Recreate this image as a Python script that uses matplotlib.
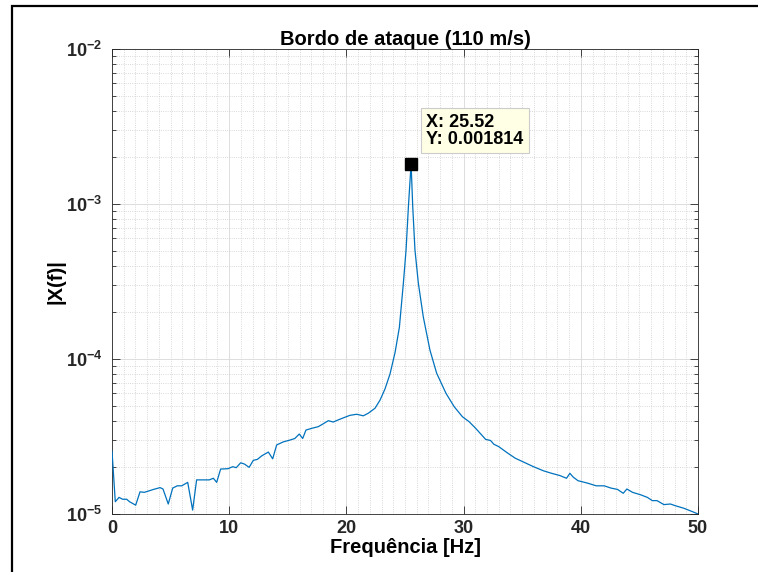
import numpy as np
import matplotlib
matplotlib.use("Agg")
import matplotlib.pyplot as plt
from matplotlib import rcParams
from matplotlib.ticker import FixedLocator, FuncFormatter, LogLocator, NullFormatter
import matplotlib.patches as mpatches

# -------------------------------------------------------
# 数据（从图中读取的频谱幅值）
# -------------------------------------------------------
freq = [0.0, 0.28, 0.6, 0.91, 1.25, 1.5, 2.02, 2.39, 2.76, 3.16, 3.53, 4.1, 4.35,
        4.8, 5.18, 5.57, 5.95, 6.46, 6.88, 7.22, 7.6, 8.3, 8.65, 8.93, 9.27, 9.9,
        10.3, 10.6, 10.98, 11.3, 11.7, 12.06, 12.4, 12.77, 13.34, 13.71, 14.05,
        14.62, 15.19, 15.6, 15.98, 16.27, 16.55, 17.04, 17.6, 18.0, 18.46, 18.88,
        19.31, 19.88, 20.3, 20.88, 21.44, 21.87, 22.44, 22.87, 23.29, 23.72, 24.15,
        24.52, 24.86, 25.09, 25.29, 25.52, 25.66, 25.85, 26.14, 26.56, 27.13, 27.7,
        28.5, 29.2, 29.9, 30.47, 31.03, 31.88, 32.3, 32.58, 33.0, 33.7, 34.41,
        35.25, 35.96, 36.81, 37.51, 38.22, 38.78, 39.07, 39.35, 39.76, 40.6, 41.31,
        42.0, 42.57, 43.14, 43.62, 43.93, 44.41, 45.11, 45.68, 46.1, 46.5, 47.09,
        47.65, 48.08, 48.78, 49.6, 50.0]
amp = [2.55e-5, 1.2e-5, 1.28e-5, 1.245e-5, 1.245e-5, 1.2e-5, 1.14e-5, 1.39e-5,
       1.38e-5, 1.41e-5, 1.44e-5, 1.48e-5, 1.45e-5, 1.16e-5, 1.47e-5, 1.52e-5,
       1.52e-5, 1.6e-5, 1.06e-5, 1.66e-5, 1.66e-5, 1.66e-5, 1.7e-5, 1.6e-5,
       1.95e-5, 1.96e-5, 2.02e-5, 1.99e-5, 2.14e-5, 2.1e-5, 2.0e-5, 2.22e-5,
       2.25e-5, 2.37e-5, 2.51e-5, 2.27e-5, 2.79e-5, 2.92e-5, 3.0e-5, 3.07e-5,
       3.28e-5, 3.07e-5, 3.48e-5, 3.57e-5, 3.66e-5, 3.81e-5, 4.0e-5, 3.92e-5,
       4.05e-5, 4.21e-5, 4.33e-5, 4.4e-5, 4.3e-5, 4.47e-5, 4.81e-5, 5.43e-5,
       6.4e-5, 8.0e-5, 1.1e-4, 1.6e-4, 3.08e-4, 5.05e-4, 9.6e-4, 1.814e-3,
       9.6e-4, 5.05e-4, 3.08e-4, 1.87e-4, 1.14e-4, 8.1e-5, 6.0e-5, 4.92e-5,
       4.24e-5, 3.94e-5, 3.57e-5, 3.03e-5, 2.98e-5, 2.82e-5, 2.72e-5, 2.49e-5,
       2.29e-5, 2.14e-5, 2.02e-5, 1.9e-5, 1.83e-5, 1.77e-5, 1.7e-5, 1.83e-5,
       1.73e-5, 1.64e-5, 1.58e-5, 1.52e-5, 1.52e-5, 1.47e-5, 1.44e-5, 1.36e-5,
       1.45e-5, 1.38e-5, 1.33e-5, 1.28e-5, 1.22e-5, 1.22e-5, 1.15e-5, 1.16e-5,
       1.13e-5, 1.09e-5, 1.03e-5, 1.0e-5]

peak_x = 25.52
peak_y = 0.001814

xticks = [0, 10, 20, 30, 40, 50]
ytick_exps = [-5, -4, -3, -2]

# -------------------------------------------------------
# 绘图设置
# -------------------------------------------------------
rcParams['font.family'] = ['Liberation Sans', 'DejaVu Sans']
rcParams['mathtext.fontset'] = 'custom'
rcParams['mathtext.rm'] = 'Liberation Sans'
rcParams['mathtext.bf'] = 'Liberation Sans:bold'

fig = plt.figure(figsize=(7.58, 5.72), dpi=100)
ax = fig.add_axes([112 / 758, 1 - 514 / 572, 586 / 758, 465 / 572])

ax.plot(freq, amp, color='#0072BD', lw=0.9, zorder=3)
ax.set_yscale('log')
ax.set_xlim(0, 50)
ax.set_ylim(1e-5, 1e-2)

# 坐标轴刻度
ax.xaxis.set_major_locator(FixedLocator(xticks))
ax.xaxis.set_minor_locator(FixedLocator(np.arange(0, 51, 1)))
ax.yaxis.set_major_locator(FixedLocator([10.0 ** e for e in ytick_exps]))
ax.yaxis.set_minor_locator(LogLocator(base=10, subs=np.arange(2, 10)))
ax.yaxis.set_minor_formatter(NullFormatter())
ax.xaxis.set_major_formatter(FuncFormatter(lambda v, p: f"{v:.0f}"))
ax.yaxis.set_major_formatter(FuncFormatter(
    lambda v, p: r"$\mathbf{10^{%d}}$" % round(np.log10(v))))

ax.tick_params(axis='both', which='major', direction='in', length=6, width=0.6,
               top=True, right=True, labelsize=13, colors='#262626')
ax.tick_params(axis='x', which='major', pad=4)
ax.tick_params(axis='y', which='major', pad=7)
ax.tick_params(axis='y', which='minor', direction='in', length=3, width=0.5,
               left=True, right=True)
ax.tick_params(axis='x', which='minor', length=0)
for lab in ax.get_xticklabels():
    lab.set_fontweight('bold')

for s in ax.spines.values():
    s.set_color('#262626')
    s.set_linewidth(0.6)

ax.grid(True, which='major', color='#d8d8d8', lw=0.6, ls='-')
ax.grid(True, which='minor', color='#cdcdcd', lw=0.6, ls=':')
ax.set_axisbelow(True)

ax.set_xlabel("Frequência [Hz]", fontsize=14.5, fontweight='bold', labelpad=1)
ax.set_ylabel("|X(f)|", fontsize=14.5, fontweight='bold', labelpad=0)
ax.set_title("Bordo de ataque (110 m/s)", fontsize=14.5, fontweight='bold', pad=3)

# 数据提示框
ax.plot([peak_x], [peak_y], marker='s', ms=9, color='black', zorder=5,
        clip_on=False)
ax.annotate(f"X: {peak_x:.2f}\nY: {peak_y:.6f}", (peak_x, peak_y),
            xytext=(15, 16), textcoords='offset pixels', ha='left', va='bottom',
            fontsize=13, fontweight='bold', color='black', zorder=6,
            linespacing=1.0,
            bbox=dict(boxstyle='square,pad=0.3', fc='#ffffe6', ec='#cccccc', lw=0.8))

# 外框
fig.patches.append(mpatches.Rectangle((12 / 758, -0.5), 2.0, 0.5 + (1 - 6 / 572),
                                      transform=fig.transFigure, fill=False,
                                      ec='black', lw=1.6))

plt.savefig("out.png", dpi=100)
